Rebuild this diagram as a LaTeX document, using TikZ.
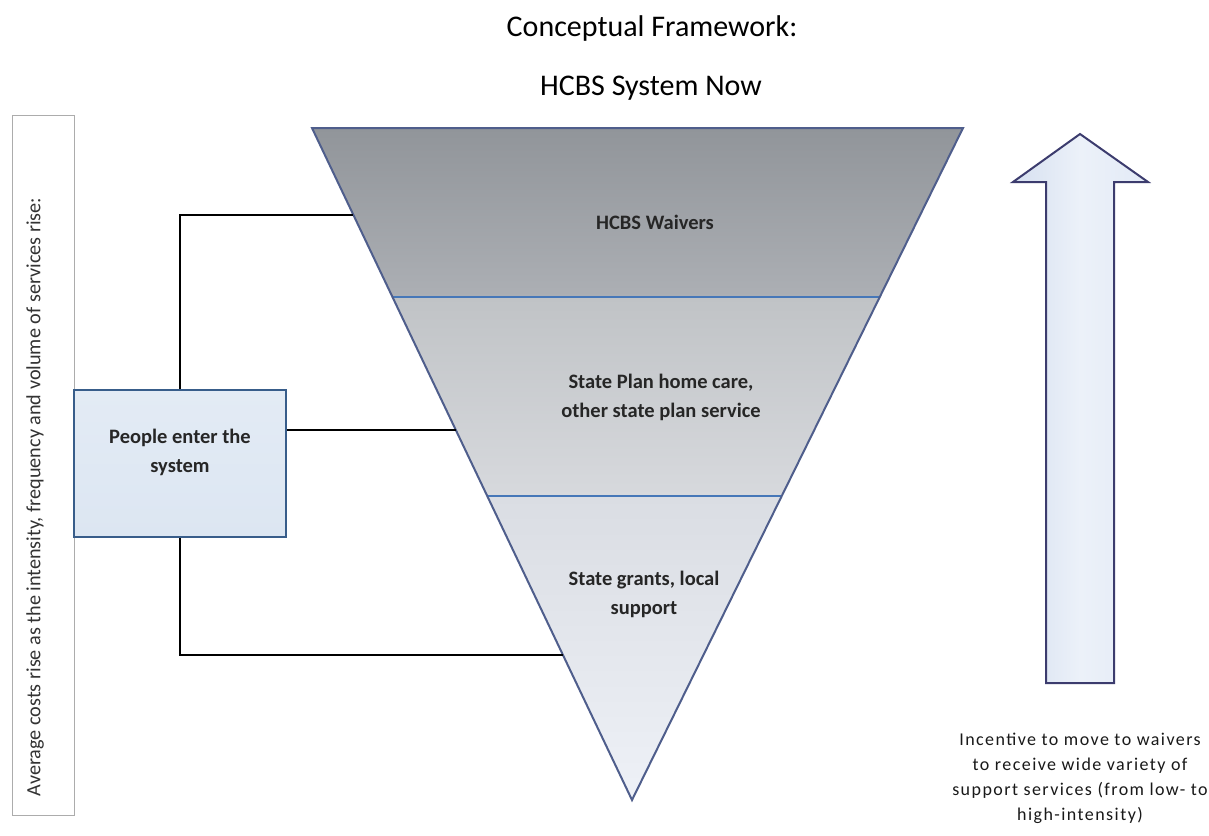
\documentclass[tikz,border=0pt]{standalone}
\usepackage{fontspec}
\setmainfont{Carlito}
\newfontfamily\spacedfont[LetterSpace=8]{Carlito}
\usetikzlibrary{calc}
\definecolor{triedge}{HTML}{4F5E8C}
\definecolor{bandline}{HTML}{4677B8}
\definecolor{boxedge}{HTML}{385D8A}
\definecolor{boxfill}{HTML}{DCE6F2}
\definecolor{arrowedge}{HTML}{3C3C6E}
\tikzset{
  titletext/.style={font=\fontsize{30}{36}\selectfont, text=black},
  tritext/.style={align=center, font=\bfseries\fontsize{20.5}{29}\selectfont, text=black!85},
  conn/.style={draw=black, line width=2.7pt},
  band/.style={draw=bandline, line width=1.6pt},
  sidetext/.style={align=center, font=\spacedfont\fontsize{18}{25}\selectfont, text=black!90}
}
\begin{document}
\begin{tikzpicture}[x=1pt,y=-1pt]
\useasboundingbox (0,0) rectangle (1209,835);
\fill[white] (0,0) rectangle (1209,835);

% titles
\node[titletext] (title1) at (652,29) {Conceptual Framework:};
\node[titletext] (title2) at (651,88) {HCBS System Now};

% left cost box
\node[draw=gray!65, line width=1pt, fill=white, minimum width=62pt, minimum height=700pt, inner sep=0pt] (costs) at (43,465) {};
\node[rotate=90, font=\fontsize{20.2}{24}\selectfont, text=black!80] (costslbl) at (35,497)
  {Average costs rise as the intensity, frequency and volume of services rise:};

% triangle
\coordinate (tl) at (312,128);
\coordinate (tr) at (963,128);
\coordinate (ap) at (632,800);
\coordinate (b1l) at ($(tl)!0.2515!(ap)$);
\coordinate (b1r) at ($(tr)!0.2515!(ap)$);
\coordinate (b2l) at ($(tl)!0.5476!(ap)$);
\coordinate (b2r) at ($(tr)!0.5476!(ap)$);
\shade[top color={rgb,255:red,145;green,149;blue,154}, bottom color={rgb,255:red,172;green,175;blue,180}]
  (tl) -- (tr) -- (b1r) -- (b1l) -- cycle;
\shade[top color={rgb,255:red,192;green,195;blue,198}, bottom color={rgb,255:red,215;green,217;blue,221}]
  (b1l) -- (b1r) -- (b2r) -- (b2l) -- cycle;
\shade[top color={rgb,255:red,218;green,221;blue,227}, bottom color={rgb,255:red,238;green,241;blue,247}]
  (b2l) -- (b2r) -- (ap) -- cycle;
\draw[band] (b1l) -- (b1r);
\draw[band] (b2l) -- (b2r);
\draw[draw=triedge, line width=2pt, line join=miter] (tl) -- (tr) -- (ap) -- cycle;

\node[tritext] (waivers) at (655,222) {HCBS Waivers};
\node[tritext] (stateplan) at (661,397) {State Plan home care,\\other state plan service};
\node[tritext] (grants) at (644,594) {State grants, local\\support};

% people box
\node[draw=boxedge, line width=2pt, top color=boxfill!80!white, bottom color=boxfill, minimum width=212pt, minimum height=147pt, inner sep=0pt] (people) at (180,463.5) {};
\node[tritext] (peoplelbl) at (180,452) {People enter the\\system};

% connectors
\coordinate (e1) at ($(tl)!0.1295!(ap)$);
\coordinate (e2) at ($(tl)!0.4494!(ap)$);
\coordinate (e3) at ($(tl)!0.7842!(ap)$);
\draw[conn] (people.north) |- (e1);
\draw[conn] (people.east |- e2) -- (e2);
\draw[conn] (people.south) |- (e3);

% arrow
\coordinate (atip) at (1080,134);
\coordinate (ahr) at (1148,182);
\coordinate (asrt) at (1114,182);
\coordinate (asrb) at (1114,683);
\coordinate (aslb) at (1046,683);
\coordinate (aslt) at (1046,182);
\coordinate (ahl) at (1013,182);
\shade[left color={rgb,255:red,214;green,224;blue,240}, right color={rgb,255:red,226;green,234;blue,246}, middle color={rgb,255:red,236;green,241;blue,249}]
  (atip) -- (ahr) -- (asrt) -- (asrb) -- (aslb) -- (aslt) -- (ahl) -- cycle;
\draw[draw=arrowedge, line width=2pt, line join=miter]
  (atip) -- (ahr) -- (asrt) -- (asrb) -- (aslb) -- (aslt) -- (ahl) -- cycle;

\node[sidetext] (incentive) at (1080,778)
  {Incentive to move to waivers\\to receive wide variety of\\support services (from low- to\\high-intensity)};
\end{tikzpicture}
\end{document}
